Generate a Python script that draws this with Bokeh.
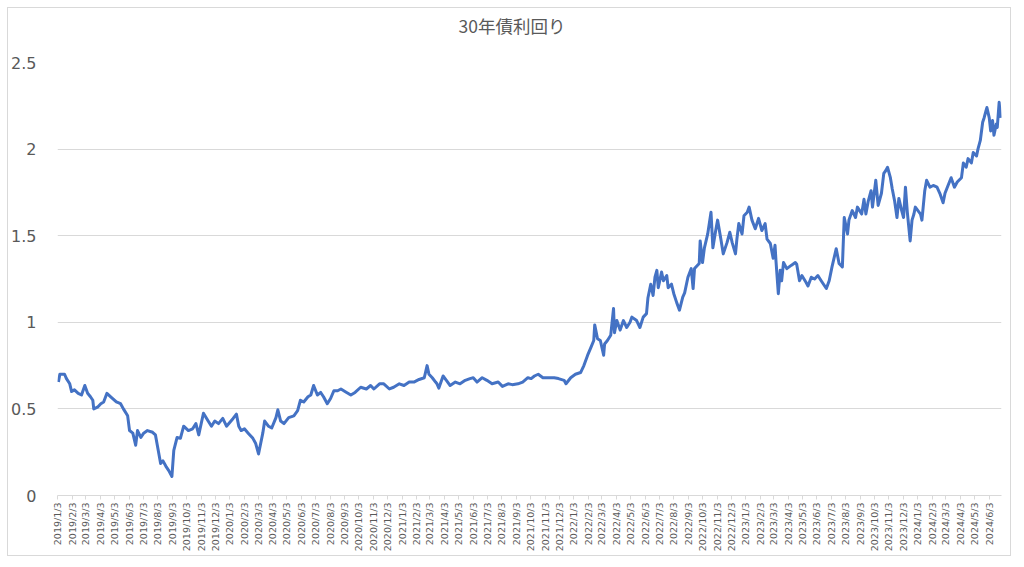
import math
from datetime import datetime

from bokeh.plotting import figure
from bokeh.models import Range1d, FixedTicker, ColumnDataSource
from bokeh.embed import file_html
from bokeh.resources import INLINE

# ---------------- data ----------------
title_text = "30年債利回り"

dates = [
    "2019-01-04", "2019-01-07", "2019-01-17", "2019-01-21", "2019-01-28", "2019-02-01", "2019-02-07", "2019-02-15",
    "2019-02-22", "2019-03-01", "2019-03-07", "2019-03-13", "2019-03-18", "2019-03-20", "2019-03-28", "2019-04-04",
    "2019-04-10", "2019-04-17", "2019-04-25", "2019-05-07", "2019-05-16", "2019-05-22", "2019-05-31", "2019-06-04",
    "2019-06-11", "2019-06-17", "2019-06-21", "2019-06-28", "2019-07-04", "2019-07-12", "2019-07-23", "2019-07-29",
    "2019-08-02", "2019-08-09", "2019-08-14", "2019-08-20", "2019-08-26", "2019-09-02", "2019-09-06", "2019-09-13",
    "2019-09-20", "2019-09-27", "2019-10-07", "2019-10-16", "2019-10-23", "2019-10-29", "2019-11-08", "2019-11-18",
    "2019-11-25", "2019-12-02", "2019-12-10", "2019-12-19", "2019-12-27", "2020-01-10", "2020-01-17", "2020-01-22",
    "2020-01-27", "2020-02-03", "2020-02-11", "2020-02-21", "2020-02-27", "2020-03-04", "2020-03-13", "2020-03-17",
    "2020-03-25", "2020-04-01", "2020-04-10", "2020-04-14", "2020-04-20", "2020-04-27", "2020-05-07", "2020-05-18",
    "2020-05-26", "2020-06-01", "2020-06-08", "2020-06-17", "2020-06-23", "2020-06-29", "2020-07-07", "2020-07-14",
    "2020-07-20", "2020-07-28", "2020-08-04", "2020-08-11", "2020-08-19", "2020-08-26", "2020-09-07", "2020-09-16",
    "2020-09-25", "2020-10-07", "2020-10-19", "2020-10-28", "2020-11-04", "2020-11-16", "2020-11-25", "2020-12-07",
    "2020-12-16", "2020-12-28", "2021-01-07", "2021-01-18", "2021-01-28", "2021-02-08", "2021-02-19", "2021-02-25",
    "2021-03-01", "2021-03-08", "2021-03-15", "2021-03-18", "2021-03-22", "2021-03-31", "2021-04-07", "2021-04-15",
    "2021-04-26", "2021-05-06", "2021-05-17", "2021-05-27", "2021-06-03", "2021-06-11", "2021-06-22", "2021-07-02",
    "2021-07-13", "2021-07-26", "2021-08-04", "2021-08-16", "2021-08-25", "2021-09-06", "2021-09-16", "2021-09-27",
    "2021-10-04", "2021-10-11", "2021-10-19", "2021-10-29", "2021-11-10", "2021-11-22", "2021-12-01", "2021-12-13",
    "2021-12-17", "2021-12-27", "2022-01-06", "2022-01-17", "2022-01-24", "2022-02-01", "2022-02-08", "2022-02-14",
    "2022-02-16", "2022-02-22", "2022-02-28", "2022-03-07", "2022-03-09", "2022-03-15", "2022-03-22", "2022-03-28",
    "2022-03-30", "2022-04-04", "2022-04-11", "2022-04-18", "2022-04-25", "2022-05-02", "2022-05-06", "2022-05-16",
    "2022-05-23", "2022-05-30", "2022-06-06", "2022-06-09", "2022-06-15", "2022-06-20", "2022-06-24", "2022-06-28",
    "2022-07-01", "2022-07-08", "2022-07-12", "2022-07-19", "2022-07-22", "2022-07-29", "2022-08-03", "2022-08-09",
    "2022-08-15", "2022-08-22", "2022-08-26", "2022-09-02", "2022-09-09", "2022-09-13", "2022-09-16", "2022-09-26",
    "2022-09-28", "2022-10-03", "2022-10-07", "2022-10-14", "2022-10-21", "2022-10-25", "2022-10-31", "2022-11-04",
    "2022-11-11", "2022-11-16", "2022-11-24", "2022-11-30", "2022-12-05", "2022-12-12", "2022-12-15", "2022-12-19",
    "2022-12-26", "2022-12-30", "2023-01-06", "2023-01-10", "2023-01-16", "2023-01-23", "2023-01-30", "2023-02-06",
    "2023-02-13", "2023-02-17", "2023-02-24", "2023-03-02", "2023-03-06", "2023-03-08", "2023-03-13", "2023-03-17",
    "2023-03-20", "2023-03-24", "2023-03-31", "2023-04-10", "2023-04-18", "2023-04-21", "2023-04-27", "2023-05-02",
    "2023-05-11", "2023-05-15", "2023-05-22", "2023-05-29", "2023-06-05", "2023-06-12", "2023-06-23", "2023-06-29",
    "2023-07-05", "2023-07-14", "2023-07-20", "2023-07-27", "2023-07-31", "2023-08-07", "2023-08-10", "2023-08-17",
    "2023-08-24", "2023-08-28", "2023-09-06", "2023-09-11", "2023-09-15", "2023-09-20", "2023-09-26", "2023-09-29",
    "2023-10-06", "2023-10-11", "2023-10-18", "2023-10-23", "2023-10-27", "2023-10-31", "2023-11-06", "2023-11-10",
    "2023-11-15", "2023-11-20", "2023-11-24", "2023-11-30", "2023-12-04", "2023-12-08", "2023-12-12", "2023-12-18",
    "2023-12-22", "2023-12-26", "2023-12-29", "2024-01-09", "2024-01-12", "2024-01-18", "2024-01-22", "2024-01-29",
    "2024-02-05", "2024-02-13", "2024-02-19", "2024-02-26", "2024-03-01", "2024-03-06", "2024-03-14", "2024-03-21",
    "2024-03-27", "2024-04-05", "2024-04-09", "2024-04-15", "2024-04-19", "2024-04-26", "2024-04-30", "2024-05-07",
    "2024-05-10", "2024-05-15", "2024-05-20", "2024-05-23", "2024-05-27", "2024-05-29", "2024-06-03", "2024-06-06",
    "2024-06-10", "2024-06-13", "2024-06-18", "2024-06-20", "2024-06-24", "2024-06-27",
]

yields = [
    0.655, 0.70, 0.70, 0.675, 0.645, 0.60, 0.61, 0.59,
    0.58, 0.635, 0.59, 0.57, 0.55, 0.50, 0.51, 0.53,
    0.54, 0.59, 0.57, 0.54, 0.53, 0.50, 0.46, 0.375,
    0.36, 0.29, 0.375, 0.335, 0.36, 0.375, 0.365, 0.35,
    0.29, 0.185, 0.20, 0.17, 0.145, 0.11, 0.26, 0.335,
    0.33, 0.40, 0.375, 0.385, 0.415, 0.35, 0.475, 0.43,
    0.40, 0.43, 0.415, 0.445, 0.40, 0.445, 0.47, 0.40,
    0.375, 0.385, 0.36, 0.33, 0.30, 0.24, 0.36, 0.43,
    0.40, 0.39, 0.45, 0.495, 0.43, 0.415, 0.45, 0.46,
    0.49, 0.55, 0.54, 0.57, 0.58, 0.635, 0.58, 0.595,
    0.57, 0.53, 0.56, 0.605, 0.605, 0.615, 0.595, 0.58,
    0.595, 0.625, 0.615, 0.635, 0.615, 0.645, 0.645, 0.615,
    0.625, 0.645, 0.635, 0.655, 0.655, 0.67, 0.68, 0.75,
    0.70, 0.68, 0.655, 0.645, 0.62, 0.69, 0.665, 0.635,
    0.655, 0.645, 0.665, 0.675, 0.68, 0.655, 0.68, 0.665,
    0.645, 0.655, 0.63, 0.645, 0.64, 0.645, 0.655, 0.68,
    0.675, 0.69, 0.70, 0.68, 0.68, 0.68, 0.675, 0.665,
    0.645, 0.68, 0.70, 0.71, 0.75, 0.81, 0.855, 0.895,
    0.985, 0.905, 0.895, 0.81, 0.875, 0.895, 0.925, 1.08,
    0.94, 1.01, 0.955, 1.01, 0.97, 1.00, 1.03, 1.01,
    0.97, 1.03, 1.05, 1.14, 1.22, 1.155, 1.26, 1.30,
    1.20, 1.29, 1.24, 1.27, 1.20, 1.22, 1.165, 1.115,
    1.07, 1.145, 1.17, 1.26, 1.31, 1.195, 1.31, 1.34,
    1.47, 1.345, 1.43, 1.51, 1.635, 1.43, 1.53, 1.59,
    1.48, 1.395, 1.46, 1.52, 1.46, 1.395, 1.48, 1.57,
    1.51, 1.615, 1.635, 1.665, 1.59, 1.54, 1.60, 1.53,
    1.57, 1.48, 1.455, 1.37, 1.445, 1.355, 1.165, 1.30,
    1.24, 1.345, 1.31, 1.33, 1.345, 1.335, 1.24, 1.27,
    1.23, 1.21, 1.26, 1.25, 1.27, 1.24, 1.195, 1.24,
    1.32, 1.425, 1.34, 1.32, 1.605, 1.51, 1.59, 1.645,
    1.605, 1.665, 1.625, 1.71, 1.625, 1.70, 1.76, 1.665,
    1.82, 1.675, 1.745, 1.86, 1.875, 1.895, 1.835, 1.77,
    1.70, 1.605, 1.715, 1.645, 1.605, 1.78, 1.635, 1.47,
    1.59, 1.625, 1.665, 1.625, 1.59, 1.76, 1.82, 1.78,
    1.79, 1.78, 1.745, 1.69, 1.745, 1.78, 1.835, 1.78,
    1.81, 1.835, 1.92, 1.895, 1.945, 1.92, 1.98, 1.96,
    2.00, 2.05, 2.155, 2.18, 2.22, 2.24, 2.18, 2.105,
    2.165, 2.08, 2.145, 2.125, 2.27, 2.18,
]

# monthly category labels (the 3rd of every month, 2019/1 .. 2024/6)
tick_months = [(y, m) for y in range(2019, 2025) for m in range(1, 13) if (y, m) <= (2024, 6)]
tick_labels = [f"{y}/{m}/3" for (y, m) in tick_months]

y_ticks = [0, 0.5, 1, 1.5, 2, 2.5]
y_tick_labels = ["0", "0.5", "1", "1.5", "2", "2.5"]

x_start = "2019-01-02"
x_end = "2024-06-29"

# ---------------- helpers ----------------
EPOCH = datetime(1970, 1, 1)


def to_ms(s):
    return int((datetime.strptime(s, "%Y-%m-%d") - EPOCH).total_seconds() * 1000)


x_vals = [to_ms(d) for d in dates]
tick_ms = [int((datetime(y, m, 3) - EPOCH).total_seconds() * 1000) for (y, m) in tick_months]

source = ColumnDataSource(data=dict(x=x_vals, y=yields))

GRAY_TEXT = "#595959"
GRID = "#d9d9d9"
BLUE = "#4472C4"

p = figure(
    width=1004,
    height=549,
    output_backend="svg",
    toolbar_location=None,
    x_range=Range1d(to_ms(x_start), to_ms(x_end)),
    y_range=Range1d(0, 2.5),
    min_border_left=47,
    min_border_right=11,
    min_border_top=54,
    min_border_bottom=62,
    background_fill_color="white",
    border_fill_color="white",
    styles={"margin-left": "7px", "margin-top": "7px", "border": "1px solid #d9d9d9"},
)
p.outline_line_color = None

# title: left-aligned with an offset so that it sits centred on the whole chart box;
# a trailing empty line lifts it higher above the plot area
p.title.text = title_text + "\n"
p.title.align = "left"
p.title.offset = 401
p.title.vertical_align = "bottom"
p.title.standoff = 0
p.title.text_font = "Noto Sans CJK JP"
p.title.text_font_size = "17.5px"
p.title.text_font_style = "normal"
p.title.text_color = GRAY_TEXT

p.line("x", "y", source=source, line_color=BLUE, line_width=3, line_join="round")

# x axis
p.xaxis.ticker = FixedTicker(ticks=tick_ms)
p.xaxis.major_label_overrides = {t: lab for t, lab in zip(tick_ms, tick_labels)}
p.xaxis.major_label_orientation = math.pi / 2
p.xaxis.axis_line_color = GRID
p.xaxis.major_tick_line_color = GRID
p.xaxis.major_tick_in = 0
p.xaxis.major_tick_out = 4
p.xaxis.minor_tick_line_color = None
p.xaxis.major_label_standoff = 3
p.xaxis.major_label_text_font = "DejaVu Sans"
p.xaxis.major_label_text_font_size = "9.5px"
p.xaxis.major_label_text_color = GRAY_TEXT

# y axis
p.yaxis.ticker = FixedTicker(ticks=y_ticks)
p.yaxis.major_label_overrides = {t: lab for t, lab in zip(y_ticks, y_tick_labels)}
p.yaxis.axis_line_color = None
p.yaxis.major_tick_line_color = None
p.yaxis.minor_tick_line_color = None
p.yaxis.major_label_standoff = 15
p.yaxis.major_label_text_font = "DejaVu Sans"
p.yaxis.major_label_text_font_size = "16px"
p.yaxis.major_label_text_color = GRAY_TEXT

p.xgrid.grid_line_color = None
p.ygrid.ticker = FixedTicker(ticks=y_ticks)
p.ygrid.grid_line_color = GRID
p.ygrid.grid_line_width = 1

open("out.html", "w").write(file_html(p, INLINE))
